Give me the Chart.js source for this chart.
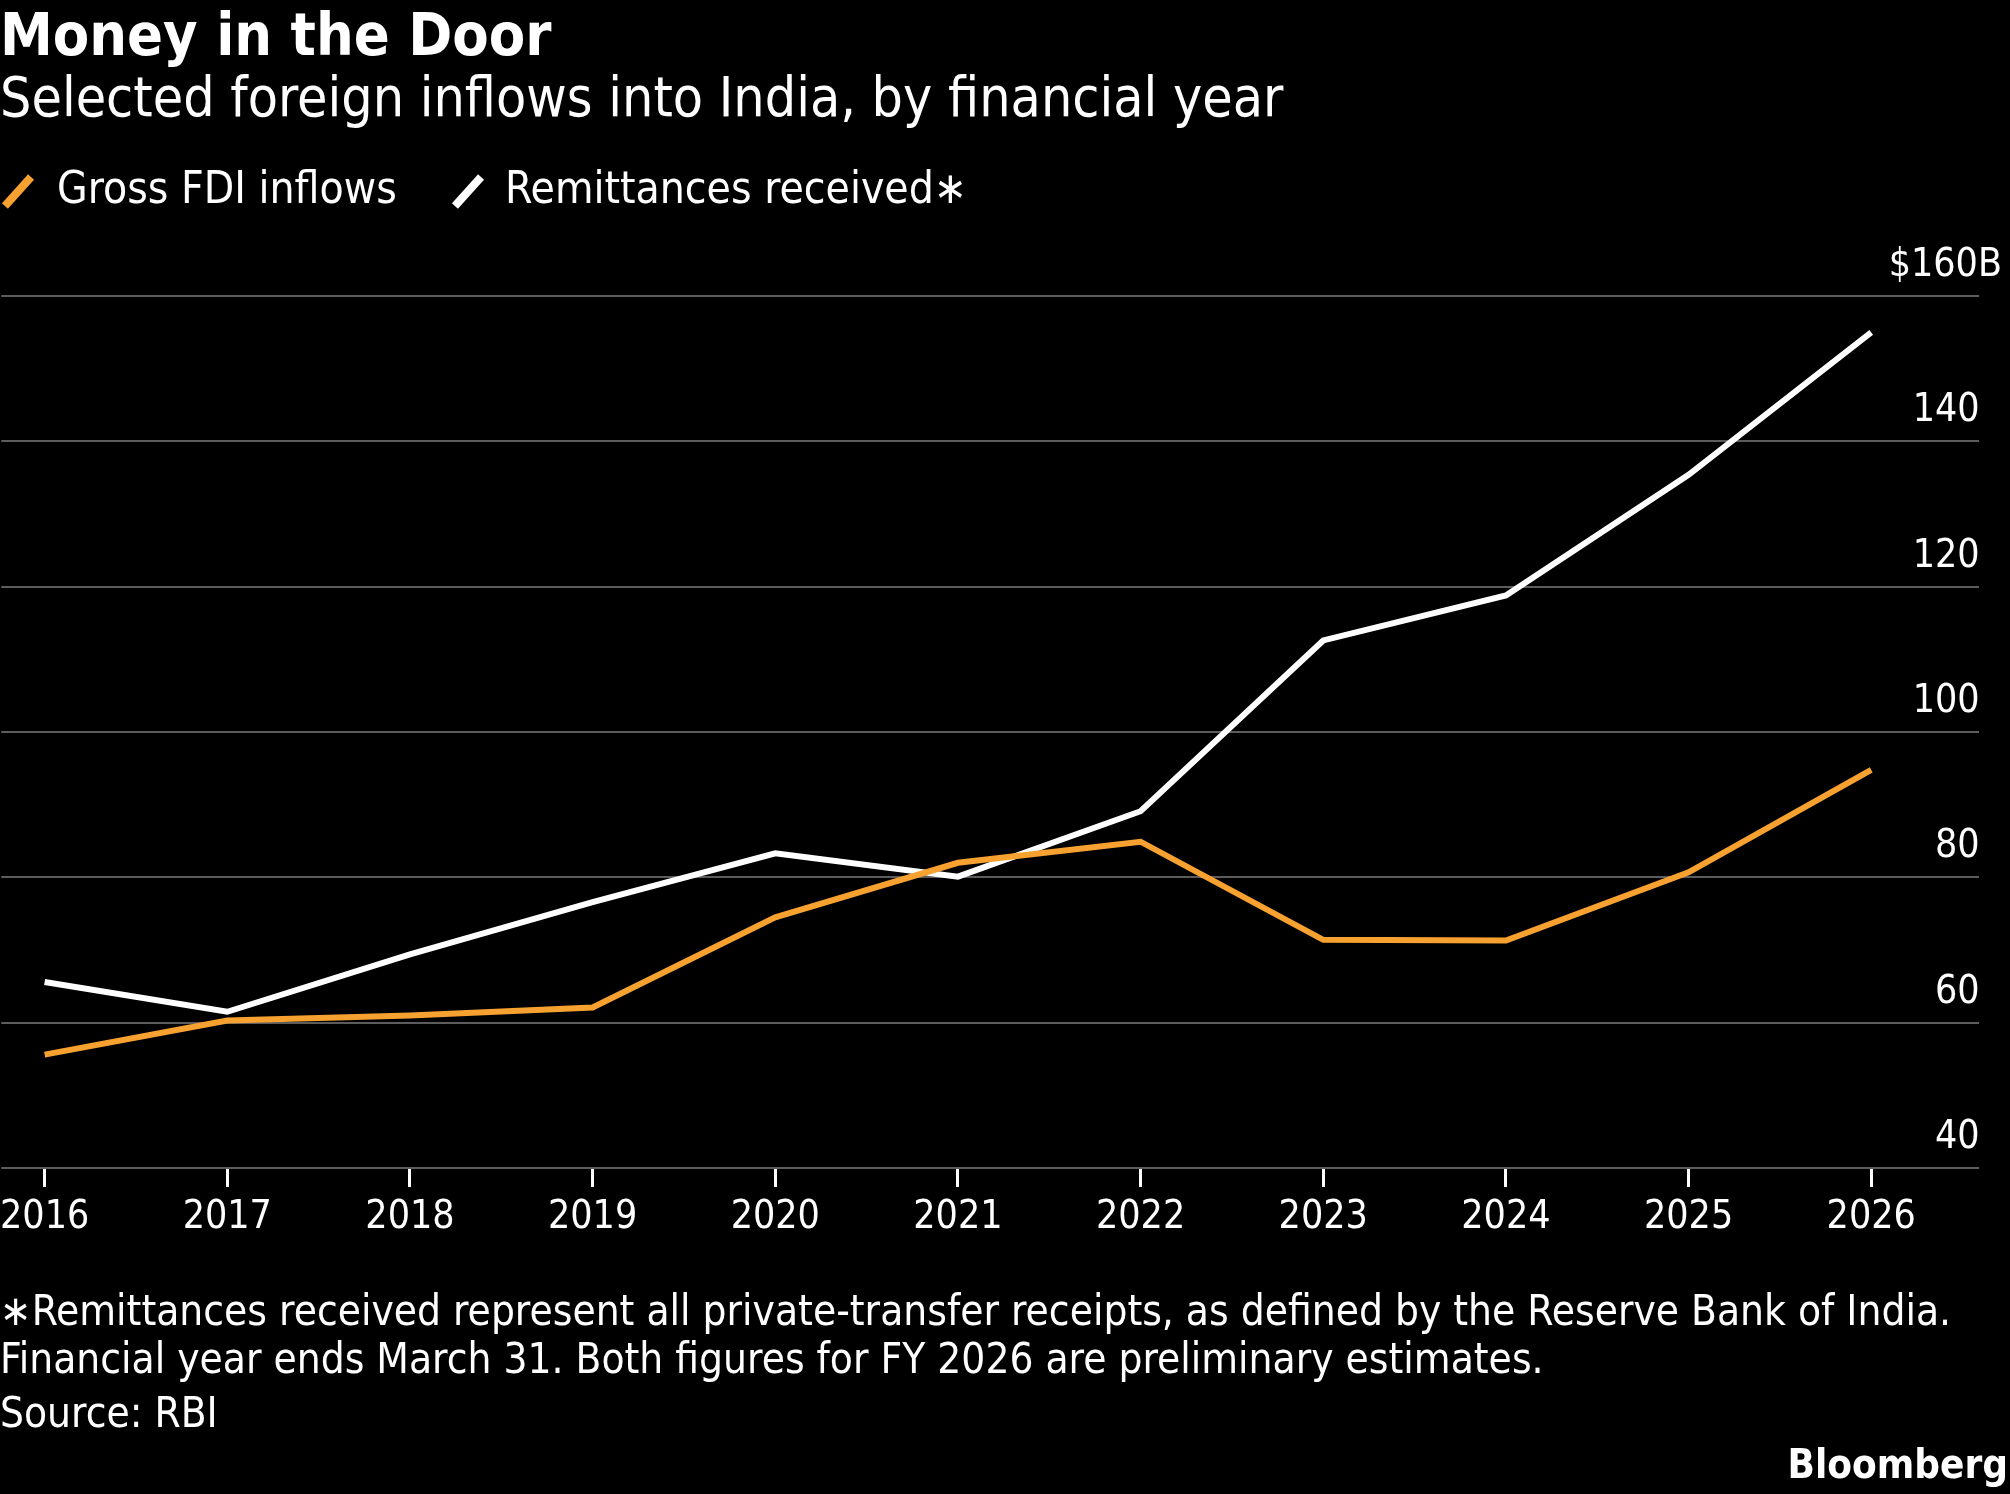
<!DOCTYPE html>
<html>
<head>
<meta charset="utf-8">
<script src="https://cdn.jsdelivr.net/npm/chart.js@4/dist/chart.umd.min.js"></script>
<style>
  html, body { margin: 0; padding: 0; background: #000; width: 2010px; height: 1494px; overflow: hidden; }
  body { position: relative; color: #fff; font-family: 'DejaVu Sans Condensed', 'DejaVu Sans', sans-serif; font-stretch: condensed; }
  .txt { position: absolute; left: 0; white-space: nowrap; line-height: 1; }
  #title { top: 5px; font-size: 59px; font-weight: bold; }
  #subtitle { top: 70px; font-size: 55px; }
  .legend { top: 166px; font-size: 44px; }
  .swatch { position: absolute; width: 8px; height: 39px; transform: rotate(42deg); }
  .foot { font-size: 42px; }
  #brand { left: auto; right: 2px; font-size: 40px; font-weight: bold; }
  #wrap { position: absolute; left: 0; top: 0; width: 2025px; height: 1494px; }
</style>
</head>
<body>
<div id="wrap"><canvas id="chart"></canvas></div>

<div id="title" class="txt">Money in the Door</div>
<div id="subtitle" class="txt">Selected foreign inflows into India, by financial year</div>

<div class="swatch" style="left:14px; top:172px; background:#f7a130;"></div>
<div class="txt legend" style="left:57px;">Gross FDI inflows</div>
<div class="swatch" style="left:464px; top:172px; background:#fff;"></div>
<div class="txt legend" style="left:505px;">Remittances received∗</div>

<div class="txt foot" style="top:1290px;">∗Remittances received represent all private-transfer receipts, as defined by the Reserve Bank of India.</div>
<div class="txt foot" style="top:1338px;">Financial year ends March 31. Both figures for FY 2026 are preliminary estimates.</div>
<div class="txt foot" style="top:1392px;">Source: RBI</div>
<div id="brand" class="txt" style="top:1444px;">Bloomberg</div>

<script>
// financial years on the x axis
const years = [2016, 2017, 2018, 2019, 2020, 2021, 2022, 2023, 2024, 2025, 2026];

// $ billions
const fdiInflows = [55.6, 60.3, 61.0, 62.1, 74.5, 82.0, 84.9, 71.4, 71.3, 80.7, 94.8];
const remittances = [65.6, 61.5, 69.4, 76.6, 83.3, 80.1, 89.1, 112.6, 118.8, 135.4, 155.0];

// y axis ticks
const yTicks = [40, 60, 80, 100, 120, 140, 160];

const FONT = "'DejaVu Sans Condensed', 'DejaVu Sans', sans-serif";
const ORANGE = "#f7a130";

const ctx = document.getElementById("chart").getContext("2d");

new Chart(ctx, {
    type: "line",
    data: {
        datasets: [
            {
                label: "Gross FDI inflows",
                data: years.map((y, i) => ({ x: y, y: fdiInflows[i] })),
                borderColor: ORANGE,
                borderWidth: 6,
                pointRadius: 0,
                tension: 0,
            },
            {
                label: "Remittances received",
                data: years.map((y, i) => ({ x: y, y: remittances[i] })),
                borderColor: "#ffffff",
                borderWidth: 6,
                pointRadius: 0,
                tension: 0,
            }
        ]
    },
    options: {
        responsive: true,
        maintainAspectRatio: false,
        animation: false,
        layout: { padding: { top: 296, left: 0, right: 0, bottom: 244.6 } },
        plugins: {
            legend: { display: false },
            tooltip: { enabled: false }
        },
        scales: {
            x: {
                type: "linear",
                min: 2015.7625,
                max: 2026.59,
                afterBuildTicks: scale => { scale.ticks = years.map(v => ({ value: v })); },
                border: { display: false },
                grid: {
                    drawOnChartArea: false,
                    drawTicks: true,
                    tickLength: 19,
                    tickColor: "#ffffff",
                    tickWidth: 3
                },
                ticks: {
                    autoSkip: false,
                    maxRotation: 0,
                    minRotation: 0,
                    padding: 0,
                    color: "#ffffff",
                    font: { family: FONT, size: 39, lineHeight: 1.6 },
                    callback: v => String(v)
                }
            },
            y: {
                position: "right",
                min: 40,
                max: 160,
                afterBuildTicks: scale => { scale.ticks = yTicks.map(v => ({ value: v })); },
                border: { display: false },
                grid: {
                    color: "#5c5c5c",
                    lineWidth: 2,
                    drawTicks: false
                },
                ticks: {
                    mirror: true,
                    padding: 23,
                    labelOffset: -30,
                    color: "#ffffff",
                    font: { family: FONT, size: 39 },
                    callback: v => v === 160 ? "$160B" : v + "\u2007"
                }
            }
        }
    }
});
</script>
</body>
</html>
